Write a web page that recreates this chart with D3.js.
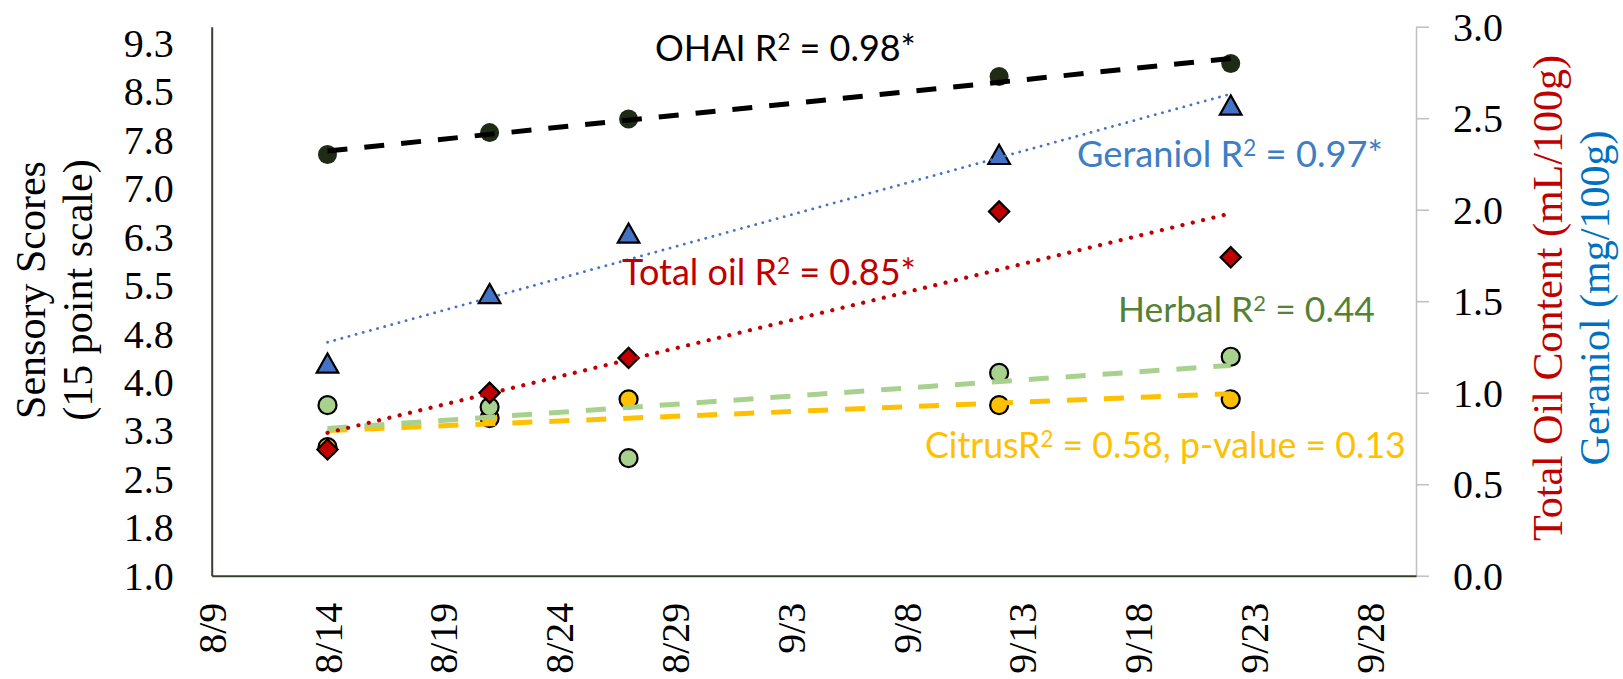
<!DOCTYPE html>
<html><head><meta charset="utf-8">
<script src="https://cdn.jsdelivr.net/npm/d3@7"></script>
<style>html,body{margin:0;padding:0;background:#fff;} svg{display:block;background:#fff;}</style>
</head><body>
<svg id="chart" width="1623" height="679"></svg>
<script>
// ---------------- DATA ----------------
const sampleDates = ["2019-08-14","2019-08-21","2019-08-27","2019-09-12","2019-09-22"];
const ohaiScores   = [7.52, 7.86, 8.07, 8.73, 8.93];
const herbalScores = [3.64, 3.61, 2.82, 4.14, 4.39];
const citrusScores = [2.99, 3.44, 3.73, 3.64, 3.73];
const totalOil     = [0.69, 1.00, 1.19, 1.99, 1.74];
const geraniol     = [1.16, 1.54, 1.87, 2.30, 2.57];

const xDomain = ["2019-08-09","2019-09-30"];
const xTickDates  = ["2019-08-09","2019-08-14","2019-08-19","2019-08-24","2019-08-29","2019-09-03","2019-09-08","2019-09-13","2019-09-18","2019-09-23","2019-09-28"];
const xTickLabels = ["8/9","8/14","8/19","8/24","8/29","9/3","9/8","9/13","9/18","9/23","9/28"];
const leftDomain = [1, 9.5];
const leftTickValues = [1.0,1.75,2.5,3.25,4.0,4.75,5.5,6.25,7.0,7.75,8.5,9.25];
const leftTickLabels = ["1.0","1.8","2.5","3.3","4.0","4.8","5.5","6.3","7.0","7.8","8.5","9.3"];
const rightDomain = [0, 3];
const rightTickValues = [0,0.5,1,1.5,2,2.5,3];
const rightTickLabels = ["0.0","0.5","1.0","1.5","2.0","2.5","3.0"];

const leftTitle = ["Sensory Scores", "(15 point scale)"];
const rightTitle = ["Total Oil Content (mL/100g)", "Geraniol (mg/100g)"];
const annoTexts = [
  ["OHAI R", "2", " = 0.98*"],
  ["Geraniol R", "2", " = 0.97*"],
  ["Total oil R", "2", " = 0.85*"],
  ["Herbal R", "2", " = 0.44"],
  ["CitrusR", "2", " = 0.58, p-value = 0.13"]
];

// ---------------- LAYOUT ----------------
const W = 1623, H = 679;
const plot = {left: 211.7, right: 1416, top: 26.7, bottom: 575.7};
const serif = "'Liberation Serif','Times New Roman',serif";
const sans = "Lato,'Open Sans',sans-serif";
const parse = d3.utcParse("%Y-%m-%d");

const svg = d3.select("#chart");
svg.append("rect").attr("width", W).attr("height", H).attr("fill", "#fff");

const x = d3.scaleUtc().domain(xDomain.map(parse)).range([plot.left, plot.right]);
const yL = d3.scaleLinear().domain(leftDomain).range([plot.bottom, plot.top]);
const yR = d3.scaleLinear().domain(rightDomain).range([plot.bottom, plot.top]);

// ---------------- AXES ----------------
const axisColor = "#35402e";
const gL = svg.append("g").attr("transform", `translate(${plot.left},0)`)
  .call(d3.axisLeft(yL).tickValues(leftTickValues).tickFormat((d,i)=>leftTickLabels[i]).tickSize(0).tickSizeOuter(0).tickPadding(38));
gL.select(".domain").attr("stroke", axisColor).attr("stroke-width", 2);
gL.selectAll("text").attr("font-family", serif).attr("font-size", 40).attr("fill", "#000").attr("dy", "0.34em");

const gR = svg.append("g").attr("transform", `translate(${plot.right},0)`)
  .call(d3.axisRight(yR).tickValues(rightTickValues).tickFormat((d,i)=>rightTickLabels[i]).tickSize(13).tickSizeOuter(0).tickPadding(24));
gR.select(".domain").attr("stroke", "#bfbfbf").attr("stroke-width", 1.5);
gR.selectAll(".tick line").attr("stroke", "#bfbfbf").attr("stroke-width", 1.5);
gR.selectAll("text").attr("font-family", serif).attr("font-size", 40).attr("fill", "#000").attr("dy", "0.34em");

const gB = svg.append("g").attr("transform", `translate(0,${plot.bottom})`)
  .call(d3.axisBottom(x).tickValues(xTickDates.map(parse)).tickFormat((d,i)=>xTickLabels[i]).tickSize(0).tickSizeOuter(0));
gB.select(".domain").attr("stroke", axisColor).attr("stroke-width", 2);
gB.selectAll("text").attr("font-family", serif).attr("font-size", 40).attr("fill", "#000")
  .attr("transform", "rotate(-90)").attr("x", -27).attr("y", 0).attr("dy", "0.34em").attr("text-anchor", "end");

// axis titles
const lt = svg.append("text").attr("transform", "translate(0,290) rotate(-90)")
  .attr("font-family", serif).attr("font-size", 42).attr("text-anchor", "middle").attr("fill", "#000");
lt.append("tspan").attr("x", 0).attr("y", 45).text(leftTitle[0]);
lt.append("tspan").attr("x", 0).attr("y", 92).text(leftTitle[1]);

const rt = svg.append("text").attr("transform", "translate(0,298) rotate(-90)")
  .attr("font-family", serif).attr("font-size", 42).attr("text-anchor", "middle");
rt.append("tspan").attr("x", 0).attr("y", 1562).attr("fill", "#c00000").text(rightTitle[0]);
rt.append("tspan").attr("x", 0).attr("y", 1609).attr("fill", "#0070c0").text(rightTitle[1]);

// ---------------- SERIES ----------------
const dates = sampleDates.map(parse);
const pts = (vals, ys) => vals.map((v,i)=>({x: x(dates[i]), y: ys(v), d: dates[i], v}));

const triangleType = {draw(ctx, size){ const s = Math.sqrt(size)/2; ctx.moveTo(0,-s); ctx.lineTo(s*1.08, s*0.92); ctx.lineTo(-s*1.08, s*0.92); ctx.closePath(); }};
const triPath = d3.symbol().type(triangleType).size(400)();
const diaPath = d3.symbol().type(d3.symbolSquare).size(205)();

const mk = svg.append("g");
mk.selectAll(".ger").data(pts(geraniol, yR)).join("path").attr("d", triPath)
  .attr("transform", d=>`translate(${d.x},${d.y})`).attr("fill", "#4472c4").attr("stroke", "#000").attr("stroke-width", 2.2).attr("stroke-linejoin","miter");
mk.selectAll(".ohai").data(pts(ohaiScores, yL)).join("circle")
  .attr("cx", d=>d.x).attr("cy", d=>d.y).attr("r", 9.5).attr("fill", "#1f2b15");
mk.selectAll(".cit").data(pts(citrusScores, yL)).join("circle")
  .attr("cx", d=>d.x).attr("cy", d=>d.y).attr("r", 9).attr("fill", "#ffc000").attr("stroke", "#000").attr("stroke-width", 2.2);
mk.selectAll(".herb").data(pts(herbalScores, yL)).join("circle")
  .attr("cx", d=>d.x).attr("cy", d=>d.y).attr("r", 9).attr("fill", "#a9d18e").attr("stroke", "#000").attr("stroke-width", 2.2);
mk.selectAll(".oil").data(pts(totalOil, yR)).join("path").attr("d", diaPath)
  .attr("transform", d=>`translate(${d.x},${d.y}) rotate(45)`).attr("fill", "#c00000").attr("stroke", "#000").attr("stroke-width", 2.2);

// linear trend lines (least squares on the data)
function trend(vals){
  const xs = dates.map(d => d.getTime());
  const mx = d3.mean(xs), my = d3.mean(vals);
  let sxy = 0, sxx = 0;
  xs.forEach((t,i)=>{ sxy += (t-mx)*(vals[i]-my); sxx += (t-mx)*(t-mx); });
  const b = sxy/sxx, a = my - b*mx;
  const ends = d3.extent(xs);
  return ends.map(t => ({t: new Date(t), v: a + b*t}));
}
const line = ys => d3.line().x(d=>x(d.t)).y(d=>ys(d.v));
const tl = svg.append("g").attr("fill", "none");
tl.append("path").attr("d", line(yL)(trend(citrusScores))).attr("stroke", "#ffc000").attr("stroke-width", 5).attr("stroke-dasharray", "20,17");
tl.append("path").attr("d", line(yL)(trend(herbalScores))).attr("stroke", "#a9d18e").attr("stroke-width", 5).attr("stroke-dasharray", "20,17");
tl.append("path").attr("d", line(yR)(trend(totalOil))).attr("stroke", "#c00000").attr("stroke-width", 4.2).attr("stroke-linecap", "round").attr("stroke-dasharray", "0.1,10.5");
tl.append("path").attr("d", line(yR)(trend(geraniol))).attr("stroke", "#4472c4").attr("stroke-width", 2.8).attr("stroke-linecap", "round").attr("stroke-dasharray", "0.1,7.3");
tl.append("path").attr("d", line(yL)(trend(ohaiScores))).attr("stroke", "#000").attr("stroke-width", 5).attr("stroke-dasharray", "20,17");

// ---------------- ANNOTATIONS ----------------
const annoLayout = [
  {x: 655, y: 61, w: 261, color: "#000000"},
  {x: 1077, y: 166.7, w: 306, color: "#3e7ec5"},
  {x: 622, y: 285, w: 294, color: "#c00000"},
  {x: 1118, y: 321.7, w: 257, color: "#548235"},
  {x: 925, y: 458, w: 481, color: "#ffc000"}
];
annoTexts.forEach((parts, i) => {
  const L = annoLayout[i];
  const t = svg.append("text").attr("x", L.x).attr("y", L.y).attr("font-family", sans)
    .attr("font-size", 36).attr("fill", L.color).style("white-space", "pre");
  t.append("tspan").text(parts[0]);
  t.append("tspan").attr("font-size", "62%").attr("dy", "-0.48em").text(parts[1]);
  t.append("tspan").attr("dy", "0.298em").text(parts[2]);
  const w = t.node().getComputedTextLength();
  t.attr("font-size", 36 * L.w / w);
});
</script>
</body></html>
